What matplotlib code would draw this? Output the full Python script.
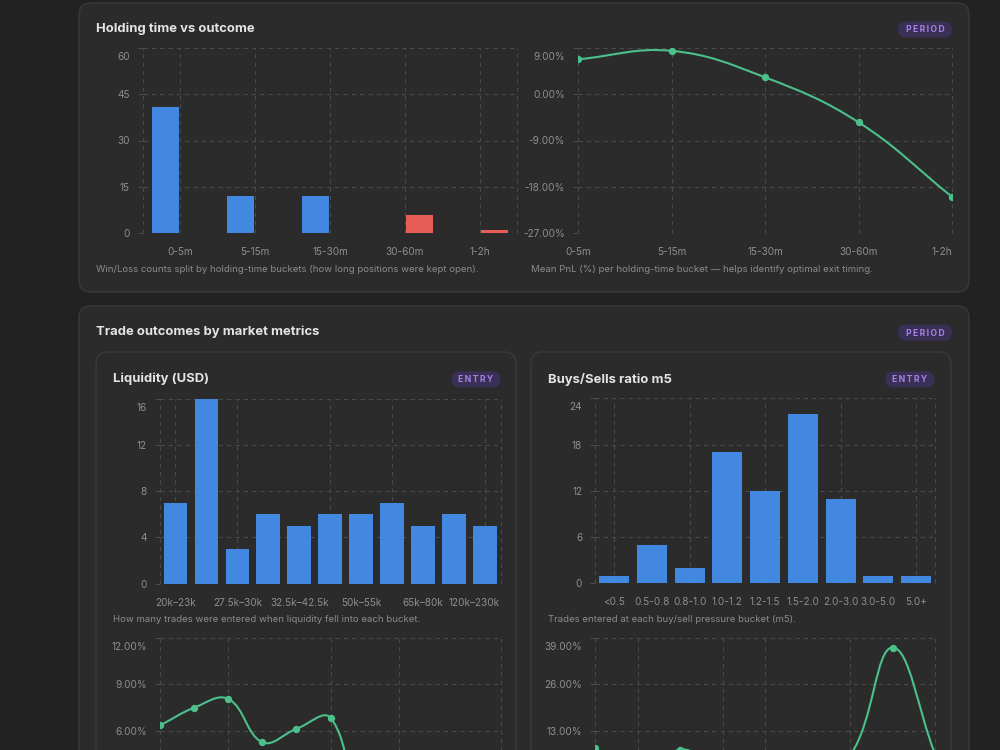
import numpy as np
import matplotlib
matplotlib.use("Agg")
import matplotlib.pyplot as plt
from matplotlib.patches import FancyBboxPatch, PathPatch
from matplotlib.path import Path
from matplotlib.transforms import ScaledTranslation
from matplotlib.ticker import FuncFormatter

plt.rcParams['font.family'] = ['Inter', 'DejaVu Sans']
plt.rcParams['lines.scale_dashes'] = False

# colours
pageColor = "#222222"
cardColor = "#2b2b2b"
borderColor = "#3a3a3a"
gridColor = "#4a4a4a"
tickColor = "#8e8e8e"
titleColor = "#e4e4e4"
captionColor = "#8c8c8c"
blueColor = "#4388e0"
redColor = "#e85c58"
greenColor = "#4cc08a"
badgeBg = "#3a3056"
badgeText = "#a680e8"

# data
hold_buckets = ['0-5m', '5-15m', '15-30m', '30-60m', '1-2h']
hold_wins = [41, 12, 12, 0, 0]
hold_losses = [0, 0, 0, 6, 1]
hold_pnl = [6.8, 8.45, 3.3, -5.45, -19.95]

liq_buckets = ['20k–23k', '23k–27.5k', '27.5k–30k', '30k–32.5k', '32.5k–42.5k',
               '42.5k–50k', '50k–55k', '55k–65k', '65k–80k', '80k–120k', '120k–230k']
liq_counts = [7, 16, 3, 6, 5, 6, 6, 7, 5, 6, 5]
liq_pnl = [6.35, 7.5, 8.06, 5.25, 6.12, 6.83, 0.8, 3.0, 1.5, 2.5, 1.0]

bs_buckets = ['<0.5', '0.5-0.8', '0.8-1.0', '1.0-1.2', '1.2-1.5',
              '1.5-2.0', '2.0-3.0', '3.0-5.0', '5.0+']
bs_counts = [1, 5, 2, 17, 12, 22, 11, 1, 1]
bs_pnl = [8.0, -2.0, 7.7, 1.0, -3.0, 2.0, 6.0, 36.4, 6.5]

W, H = 1000, 750
fig = plt.figure(figsize=(10, 7.5), dpi=100, facecolor=pageColor)

# background layer in pixel coordinates
bg = fig.add_axes([0, 0, 1, 1], zorder=-1)
bg.set_xlim(0, W)
bg.set_ylim(H, 0)
bg.axis('off')


def card(x0, y0, x1, y1, r=12):
    bg.add_patch(FancyBboxPatch((x0, y0), x1 - x0, y1 - y0,
                                boxstyle="round,pad=0,rounding_size=%d" % r,
                                fc=cardColor, ec=borderColor, lw=1))


def badge(cx, cy, text, w, h):
    bg.add_patch(FancyBboxPatch((cx - w / 2, cy - h / 2), w, h,
                                boxstyle="round,pad=0,rounding_size=%f" % (h / 2),
                                fc=badgeBg, ec='none'))
    bg.text(cx, cy + 0.5, "\u2009".join(text), color=badgeText, fontsize=6.2,
            fontweight='bold', ha='center', va='center')


def title(x, y, text):
    bg.text(x, y, text, color=titleColor, fontsize=9.4, fontweight='bold',
            ha='left', va='center')


def caption(x, y, text):
    bg.text(x, y, text, color=captionColor, fontsize=6.9, ha='left', va='center')


card(79, 3, 969, 292)
card(79, 306, 969, 800)
card(96, 352, 516, 820)
card(531, 352, 951, 820)

title(96, 29, "Holding time vs outcome")
badge(925, 29.5, "PERIOD", 54, 16)
title(96, 332, "Trade outcomes by market metrics")
badge(925, 332.5, "PERIOD", 54, 16)
title(113, 379, "Liquidity (USD)")
badge(476, 379.5, "ENTRY", 49, 16)
title(548, 379, "Buys/Sells ratio m5")
badge(910, 379.5, "ENTRY", 49, 16)

caption(96, 269, "Win/Loss counts split by holding-time buckets (how long positions were kept open).")
caption(531, 269, "Mean PnL (%) per holding-time bucket — helps identify optimal exit timing.")
caption(113, 619, "How many trades were entered when liquidity fell into each bucket.")
caption(548, 619, "Trades entered at each buy/sell pressure bucket (m5).")


def make_axes(x0, y0, x1, y1):
    ax = fig.add_axes([x0 / W, 1 - y1 / H, (x1 - x0) / W, (y1 - y0) / H])
    ax.patch.set_visible(False)
    for s in ax.spines.values():
        s.set_visible(False)
    ax.tick_params(axis='y', length=3.6, width=0.8, color=gridColor,
                   labelcolor=tickColor, labelsize=7.2, pad=5.8)
    ax.tick_params(axis='x', length=0, labelcolor=tickColor, labelsize=7.2, pad=10)
    ax.grid(axis='y', color=gridColor, lw=0.8, linestyle=(0, (3, 3)))
    ax.set_axisbelow(True)
    return ax


def vgrid(ax, positions):
    for p in positions:
        ax.axvline(p, color=gridColor, lw=0.8, linestyle=(0, (3, 3)),
                   clip_on=False, zorder=0)


def shift(label, dx=0, dy=0):
    label.set_transform(label.get_transform() +
                        ScaledTranslation(dx / 100, dy / 100, fig.dpi_scale_trans))


def top_label_down(ax, dy=8.2):
    shift(ax.yaxis.get_major_ticks()[-1].label1, 0, -dy)


def hide_low_labels(ax, vmin):
    # the lower part of these charts lies below the visible page
    for tick, v in zip(ax.yaxis.get_major_ticks(), ax.get_yticks()):
        if v < vmin:
            tick.label1.set_visible(False)
            tick.tick1line.set_visible(False)


def smooth_line(ax, ys, color, t=0.4):
    xs = np.arange(len(ys))
    pts = ax.transData.transform(np.column_stack([xs, ys]))
    n = len(pts)
    cprev, cnext = [], []
    for i in range(n):
        prev = pts[max(i - 1, 0)]
        cur = pts[i]
        nxt = pts[min(i + 1, n - 1)]
        d01 = np.hypot(*(cur - prev))
        d12 = np.hypot(*(nxt - cur))
        tot = d01 + d12
        s01 = d01 / tot if tot else 0
        s12 = d12 / tot if tot else 0
        cprev.append(cur - t * s01 * (nxt - prev))
        cnext.append(cur + t * s12 * (nxt - prev))
    verts = [pts[0]]
    codes = [Path.MOVETO]
    for i in range(n - 1):
        verts += [cnext[i], cprev[i + 1], pts[i + 1]]
        codes += [Path.CURVE4] * 3
    verts = ax.transData.inverted().transform(np.array(verts))
    ax.add_patch(PathPatch(Path(verts, codes), fc='none', ec=color, lw=1.5,
                           transform=ax.transData, zorder=3))
    ax.plot(xs, ys, 'o', color=color, ms=4.3, mec=color, zorder=4)


pct = FuncFormatter(lambda v, pos: "%.2f%%" % v)

# --- Holding time: win/loss counts ---
ax1 = make_axes(143, 48, 517, 233)
x = np.arange(len(hold_buckets))
ax1.bar(x - 0.2, hold_wins, width=0.36, color=blueColor, zorder=2)
ax1.bar(x + 0.2, hold_losses, width=0.36, color=redColor, zorder=2)
ax1.set_xlim(-0.5, len(hold_buckets) - 0.5)
ax1.set_ylim(0, 60)
ax1.set_yticks([0, 15, 30, 45, 60])
ax1.set_xticks(x, hold_buckets)
vgrid(ax1, [-0.5] + list(x) + [len(x) - 0.5])
top_label_down(ax1)

# --- Holding time: mean PnL ---
ax2 = make_axes(578, 48, 952, 233)
ax2.set_xlim(0, len(hold_buckets) - 1)
ax2.set_ylim(-27, 9)
ax2.set_yticks([-27, -18, -9, 0, 9])
ax2.yaxis.set_major_formatter(pct)
ax2.set_xticks(np.arange(len(hold_buckets)), hold_buckets)
ax2.get_xticklabels()[-1].set_ha('right')
vgrid(ax2, np.arange(len(hold_buckets)))
smooth_line(ax2, hold_pnl, greenColor)
top_label_down(ax2)

# --- Liquidity counts ---
ax3 = make_axes(160, 398.7, 500.7, 583.7)
x = np.arange(len(liq_buckets))
ax3.bar(x, liq_counts, width=0.77, color=blueColor, zorder=2)
ax3.set_xlim(-0.5, len(x) - 0.5)
ax3.set_ylim(0, 16)
ax3.set_yticks([0, 4, 8, 12, 16])
ax3.set_xticks(x, [b if i % 2 == 0 else '' for i, b in enumerate(liq_buckets)])
last = ax3.get_xticklabels()[-1]
last.set_ha('right')
shift(last, 14.8, 0)
vgrid(ax3, [-0.5, 0, 2, 5, 7, 10, len(x) - 0.5])
top_label_down(ax3)

# --- Buys/Sells counts ---
ax4 = make_axes(595.3, 398.3, 935, 583.3)
x = np.arange(len(bs_buckets))
ax4.bar(x, bs_counts, width=0.79, color=blueColor, zorder=2)
ax4.set_xlim(-0.5, len(x) - 0.5)
ax4.set_ylim(0, 24)
ax4.set_yticks([0, 6, 12, 18, 24])
ax4.set_xticks(x, bs_buckets)
vgrid(ax4, [-0.5, 0, 2, 4, 6, 8, len(x) - 0.5])
top_label_down(ax4)

# --- Liquidity mean PnL ---
ax5 = make_axes(160.3, 638.3, 500.7, 823.1)
ax5.set_xlim(0, len(liq_buckets) - 1)
ax5.set_ylim(0, 12)
ax5.set_yticks([0, 3, 6, 9, 12])
ax5.yaxis.set_major_formatter(pct)
ax5.set_xticks([])
vgrid(ax5, [0, 2, 5, 7, 10])
smooth_line(ax5, liq_pnl, greenColor)
top_label_down(ax5)
hide_low_labels(ax5, 6)

# --- Buys/Sells mean PnL ---
ax6 = make_axes(595.3, 638.3, 935, 823.1)
ax6.set_xlim(0, len(bs_buckets) - 1)
ax6.set_ylim(-13, 39)
ax6.set_yticks([-13, 0, 13, 26, 39])
ax6.yaxis.set_major_formatter(pct)
ax6.set_xticks([])
vgrid(ax6, [0, 1, 3, 4, 6, 8])
smooth_line(ax6, bs_pnl, greenColor)
top_label_down(ax6)
hide_low_labels(ax6, 13)

fig.savefig("out.png", dpi=100, facecolor=pageColor)
